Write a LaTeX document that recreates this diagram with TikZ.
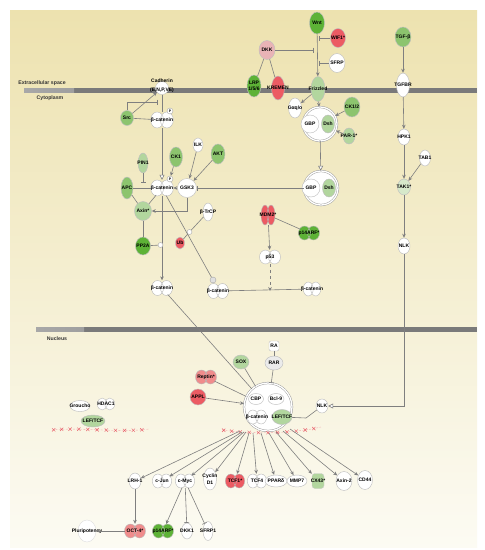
\documentclass[tikz,border=0pt]{standalone}
\usepackage{fontspec}
\setmainfont{Liberation Sans}
\usetikzlibrary{arrows.meta,shapes.geometric,shapes.misc}
\definecolor{bgtop}{HTML}{EDE2AF}
\definecolor{bgmid}{HTML}{F5EFD3}
\definecolor{bgbot}{HTML}{FCFBF3}
\definecolor{gA}{HTML}{5DB236}
\definecolor{gB}{HTML}{8CC46E}
\definecolor{gC}{HTML}{B2D69E}
\definecolor{gD}{HTML}{D6E9CA}
\definecolor{rA}{HTML}{EC5B63}
\definecolor{rB}{HTML}{F08C8C}
\definecolor{rC}{HTML}{E9B3B6}
\definecolor{edgec}{HTML}{7F7F7F}
\definecolor{membd}{HTML}{7A7A7A}
\definecolor{membl}{HTML}{A8A8A8}
\definecolor{xred}{HTML}{E8606A}
\newcommand\molfont{\fontsize{5}{5.5}\selectfont\bfseries}
\newcommand\mbx[1]{\makebox[0pt]{#1}}
\tikzset{
  mol/.style={ellipse, inner sep=0pt, draw=black!25, line width=0.45pt, font=\molfont},
  txt/.style={inner sep=0pt, font=\molfont},
  region/.style={inner sep=0pt, font=\fontsize{5.2}{6}\selectfont\bfseries, text=black!80},
  pc/.style={circle, draw=black!35, fill=white, inner sep=0pt, minimum size=6pt, font=\fontsize{3.5}{4}\selectfont\bfseries},
  jn/.style={circle, draw=black!35, fill=white, inner sep=0pt, minimum size=5pt},
  cplx/.style={circle, draw=black!40, line width=0.45pt, double=white, double distance=1.3pt, fill=white, inner sep=0pt},
  link/.style={draw=edgec, line width=0.6pt},
  act/.style={link, -{Stealth[length=4pt,width=3.6pt]}},
  inh/.style={link, -{Bar[width=5pt]}},
  oarr/.style={link, -{Triangle[open,length=5pt,width=5pt,fill=white]}},
  xline/.style={draw=xred!55, line width=0.35pt, dash pattern=on 2pt off 1.5pt},
  xm/.style={cross out, solid, draw=xred, line width=0.45pt, minimum size=2.8pt, inner sep=0pt}
}
% name, fill, w, h, x, y, text
\newcommand\M[7]{\node[mol, fill=#2, minimum width=#3pt, minimum height=#4pt] (#1) at (#5,#6) {\mbx{#7}};}
% name, x, y, fill, text, rx, ry
\newcommand\dimer[7]{%
  \path[fill=#4] (#2-#6*0.75,#3) ellipse (#6pt and #7pt) (#2+#6*0.75,#3) ellipse (#6pt and #7pt);
  \path[draw=black!28, line width=0.4pt] (#2-#6*0.75,#3) ellipse (#6pt and #7pt) (#2+#6*0.75,#3) ellipse (#6pt and #7pt);
  \node[ellipse, inner sep=0pt, minimum width=3.4*#6pt, minimum height=2*#7pt, font=\molfont] (#1) at (#2,#3) {\mbx{#5}};}
\begin{document}
\begin{tikzpicture}[x=1pt,y=-1pt]
\useasboundingbox (0,0) rectangle (485,550);
\fill[white] (0,0) rectangle (485,550);
\shade[top color=bgtop, middle color=bgmid, bottom color=bgbot] (10,10) rectangle (477,547);
% membranes
\fill[membd] (24,88) rectangle (477,92.5);
\shade[left color=membl, right color=membl!80!membd] (24,88) rectangle (74,92.5);
\fill[membd] (36,327) rectangle (477,331.5);
\shade[left color=membl, right color=membl!80!membd] (36,327) rectangle (84,331.5);
\node[region] at (42,83) {Extracellular space};
\node[region] at (50,98) {Cytoplasm};
\node[region] at (57,339) {Nucleus};

% ---- extracellular / membrane
\M{wnt}{gA}{15}{22}{317}{23}{Wnt}
\M{wif}{rA}{15}{19}{338}{38}{WIF1*}
\M{dkk}{rC}{16}{19}{267}{50}{DKK}
\M{sfrp}{white}{16}{19}{337}{63}{SFRP}
\M{lrp}{gA}{14}{22}{254}{86}{\shortstack{LRP\\1/5/6}}
\M{krem}{rA}{13}{24}{278}{88}{KREMEN}
\M{fzd}{gC}{14}{25}{318}{89}{Frizzled}
\M{tgfb}{gB}{16}{20}{403}{37}{TGF-β}
\M{tgfbr}{white}{13}{24}{403}{85}{TGFBR}
\M{gaq}{white}{13}{20}{295}{108}{Gαq/o}
\M{ck12}{gB}{16}{20}{352}{107}{CK1/2}
\node[cplx, minimum size=34pt] (c1) at (320,124) {};
\M{gbp1}{white}{18}{18}{310}{124}{GBP}
\M{dsh1}{gC}{13}{18}{328}{124}{Dsh}
\M{par1}{gC}{12}{16}{349}{136}{PAR-1*}
\node[cplx, minimum size=34pt] (c2) at (321,188) {};
\M{gbp2}{white}{18}{18}{311}{188}{GBP}
\M{dsh2}{gC}{13}{18}{329}{188}{Dsh}
\M{hpk1}{white}{12}{16}{404}{137}{HPK1}
\M{tab1}{white}{11}{16}{425}{158}{TAB1}
\M{tak1}{gD}{13}{16}{404}{187}{TAK1*}
\M{nlk1}{white}{12}{16}{404}{246}{NLK}

% ---- cytoplasm left
\node[circle, draw=black!25, fill=white, minimum size=13pt, inner sep=0pt] (cadh) at (162,88) {};
\node[txt] (cadt1) at (162,81) {Cadherin};
\node[txt] (cadt2) at (162,90) {(E,N,P,VE)};
\M{src}{gB}{13}{15}{127}{118}{Src}
\dimer{bct}{162}{120}{white}{β-catenin}{6.5}{8}
\node[pc] (pt) at (170,111) {P};
\M{ck1}{gB}{13}{20}{176}{157}{CK1}
\M{ilk}{white}{10}{14}{198}{145}{ILK}
\M{akt}{gB}{14}{20}{218}{154}{AKT}
\M{pin1}{gC}{10}{20}{143}{163}{PIN1}
\M{apc}{gB}{12}{22}{127}{188}{APC}
\dimer{bcm}{162}{188}{white}{β-catenin}{6.5}{8}
\node[pc] (pm) at (170,179) {P};
\node[circle, draw=black!25, fill=white, minimum size=19pt, inner sep=0pt, font=\molfont] (gsk3) at (187,188) {\mbx{GSK3}};
\M{axin}{gC}{17}{19}{143}{211}{Axin*}
\M{btrcp}{white}{10}{18}{208}{212}{β-TrCP}
\M{pp2a}{gA}{15}{18}{143}{246}{PP2A}
\M{ub}{rA}{9}{12}{180}{243}{Ub}
\node[jn] (j1) at (189.5,232) {};
\dimer{bcl}{162}{288}{white}{β-catenin}{6}{7.5}
\dimer{bclm}{218}{291}{white}{β-catenin}{6}{7.5}
\node[jn, fill=black!12, minimum size=6pt] (ubc) at (213,280) {};
\dimer{bclr}{312}{289}{white}{β-catenin}{5}{7}
\dimer{mdm2}{268}{215}{rA}{MDM2*}{4}{10}
\dimer{p14c}{309}{233}{gA}{p14ARF*}{6}{7}
\dimer{p53}{270}{257}{white}{p53}{6}{7}

% ---- nucleus
\node[rectangle, rounded corners=2pt, draw=black!25, fill=white, minimum size=10pt, inner sep=0pt, font=\molfont] (ra) at (274,346) {\mbx{RA}};
\M{rar}{black!8}{18}{14}{274}{363}{RAR}
\M{sox}{gC}{16}{14}{241}{362}{SOX}
\dimer{reptin}{206}{377}{rB}{Reptin*}{6}{7}
\M{appl}{rA}{16}{16}{198}{397}{APPL}
\node[cplx, minimum size=48pt] (cx) at (268,407) {};
\M{cbp}{white}{15}{11}{256}{399}{CBP}
\M{bcl9}{white}{16}{11}{276}{399}{Bcl-9}
\dimer{bcx}{257}{417}{white}{β-catenin}{5.5}{7}
\M{lefx}{gC}{20}{15}{282}{417}{LEF/TCF}
\M{nlkn}{white}{12}{14}{322}{406}{NLK}
\M{grou}{white}{20}{11}{80}{406}{Groucho}
\dimer{hdac}{106}{404}{white}{HDAC1}{5}{6}
\M{lefl}{gC}{24}{12}{93}{421}{LEF/TCF}
\draw[xline] (52,430) .. controls (80,427) and (120,433) .. (149,429)
  node[xm,pos=0.02]{} node[xm,pos=0.11]{} node[xm,pos=0.2]{} node[xm,pos=0.29]{} node[xm,pos=0.38]{} node[xm,pos=0.47]{}
  node[xm,pos=0.56]{} node[xm,pos=0.65]{} node[xm,pos=0.74]{} node[xm,pos=0.83]{} node[xm,pos=0.92]{};
\draw[xline] (222,430) .. controls (250,434) and (292,434) .. (321,427)
  node[xm,pos=0.02]{} node[xm,pos=0.11]{} node[xm,pos=0.2]{} node[xm,pos=0.29]{} node[xm,pos=0.38]{} node[xm,pos=0.47]{}
  node[xm,pos=0.56]{} node[xm,pos=0.65]{} node[xm,pos=0.74]{} node[xm,pos=0.83]{} node[xm,pos=0.92]{};

% targets
\M{lrh}{white}{12}{16}{135}{481}{LRH-1}
\dimer{cjun}{162}{481}{white}{c-Jun}{5.5}{7}
\dimer{cmyc}{185}{481}{white}{c-Myc}{5.5}{7}
\M{ccnd}{white}{13}{22}{210}{479}{\shortstack{Cyclin\\D1}}
\dimer{tcf1}{235}{481}{rA}{TCF1*}{5.5}{7}
\dimer{tcf4}{257}{481}{white}{TCF4}{5.5}{7}
\M{ppard}{white}{22}{12}{276}{481}{PPARδ}
\M{mmp7}{white}{20}{12}{297}{481}{MMP7}
\node[rectangle, rounded corners=3pt, draw=black!20, fill=gC, minimum width=12pt, minimum height=15pt, inner sep=0pt, font=\molfont] (cx43) at (318,481) {\mbx{CX43*}};
\M{axin2}{white}{16}{19}{344}{481}{Axin-2}
\M{cd44}{white}{15}{19}{365}{480}{CD44}
\node[mol, draw=black!12, fill=white, minimum width=18pt, minimum height=22pt] (pluri) at (87,531) {\mbx{Pluripotency}};
\dimer{oct4}{135}{531}{rB}{OCT-4*}{6}{7}
\dimer{p14b}{163}{531}{gA}{p14ARF*}{6}{7}
\M{dkk1}{white}{11}{16}{187}{531}{DKK1}
\M{sfrp1}{white}{10}{19}{208}{531}{SFRP1}

% ---- coordinates
\coordinate (w1) at (318.5,38);
\coordinate (w2) at (318.5,63);
\coordinate (w3) at (313.5,50);
\coordinate (sb) at (158,102);
\coordinate (pb) at (143,183);
\coordinate (pl) at (270,291);
\coordinate (nk) at (306,418);
\coordinate (s1) at (240,431);
\coordinate (s2) at (242,432);
\coordinate (s3) at (244,432);
\coordinate (s4) at (246,432);
\coordinate (s5) at (249,433);
\coordinate (s6) at (253,433);
\coordinate (s7) at (261,433);
\coordinate (s8) at (269,433);
\coordinate (s9) at (276,432);
\coordinate (s10) at (283,431);
\coordinate (s11) at (290,429);

% ---- edges
\draw[act] (wnt) -- (fzd);
\draw[inh] (wif) -- (w1);
\draw[inh] (sfrp) -- (w2);
\draw[inh] (dkk) -- (w3);
\draw[link] (dkk) -- (lrp);
\draw[link] (dkk) -- (krem);
\draw[act] (tgfb) -- (tgfbr);
\draw[act] (tgfbr) -- (hpk1);
\draw[act] (hpk1) -- (tak1);
\draw[act] (tab1) -- (tak1);
\draw[act] (tak1) -- (nlk1);
\draw[oarr] (nlk1) |- (nlkn);
\draw[act] (fzd) -- (gaq);
\draw[act] (fzd) -- (c1);
\draw[act] (ck12) -- (c1);
\draw[act] (par1) -- (c1);
\draw[oarr] (c1) -- (c2);
\draw[inh] (c2) -- (gsk3);
\draw[link] (cadh) -- (bct);
\draw[act] (src) -- (cadh);
\draw[inh] (src) |- (sb);
\draw[link] (src) -- (bct);
\draw[oarr] (bct) -- (bcm);
\draw[act] (ck1) -- (pm);
\draw[act] (ilk) -- (gsk3);
\draw[act] (akt) -- (gsk3);
\draw[inh] (pin1) -- (pb);
\draw[link] (apc) -- (bcm);
\draw[act] (gsk3) -- (bcm);
\draw[act] (gsk3) |- (axin);
\draw[link] (apc) -- (axin);
\draw[link] (bcm) -- (axin);
\draw[link] (axin) -- (pp2a);
\draw[act] (bcm) -- (bcl);
\draw[link] (bcm) -- (ubc);
\draw[link] (btrcp) -- (j1);
\draw[link] (ub) -- (j1);
\draw[link] (bclm) -- (bclr);
\draw[act] (mdm2) -- (p53);
\draw[link] (mdm2) -- (p14c);
\draw[act, dashed] (p53) -- (pl);
\draw[link] (bcl) -- (cx);
\draw[link] (reptin) -- (cx);
\draw[act] (appl) -- (cx);
\draw[link] (sox) -- (cx);
\draw[link] (ra) -- (rar);
\draw[inh] (rar) -- (cx);
\draw[link] (lefx) -- (nk) -- (nlkn);
\draw[act] (s1) -- (lrh);
\draw[act] (s2) -- (cjun);
\draw[act] (s3) -- (cmyc);
\draw[act] (s4) -- (ccnd);
\draw[act] (s5) -- (tcf1);
\draw[act] (s6) -- (tcf4);
\draw[act] (s7) -- (ppard);
\draw[act] (s8) -- (mmp7);
\draw[act] (s9) -- (cx43);
\draw[act] (s10) -- (axin2);
\draw[act] (s11) -- (cd44);
\draw[act] (lrh) -- (oct4);
\draw[act] (oct4) -- (pluri);
\draw[act] (cmyc) -- (p14b);
\draw[inh] (cmyc) -- (dkk1);
\draw[inh] (cmyc) -- (sfrp1);
\node[jn] (j2) at (160.5,245) {};
\draw[link] (pp2a) -- (j2);
\end{tikzpicture}
\end{document}
